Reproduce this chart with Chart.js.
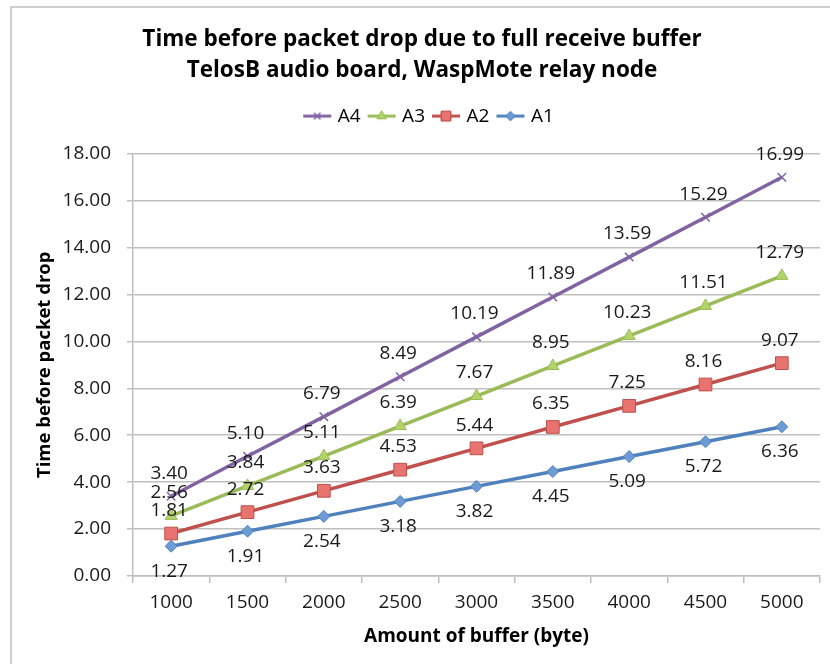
<!DOCTYPE html>
<html>
<head>
<meta charset="utf-8">
<script src="https://cdn.jsdelivr.net/npm/chart.js@4"></script>
<style>
html,body{margin:0;padding:0;background:#fff;}
#wrap{width:830px;height:664px;position:relative;}
</style>
</head>
<body>
<div id="wrap"><canvas id="c" width="830" height="664"></canvas></div>
<script>
const categories = ['1000','1500','2000','2500','3000','3500','4000','4500','5000'];
const seriesA1 = [1.27,1.91,2.54,3.18,3.82,4.45,5.09,5.72,6.36];
const seriesA2 = [1.81,2.72,3.63,4.53,5.44,6.35,7.25,8.16,9.07];
const seriesA3 = [2.56,3.84,5.11,6.39,7.67,8.95,10.23,11.51,12.79];
const seriesA4 = [3.40,5.10,6.79,8.49,10.19,11.89,13.59,15.29,16.99];
const yTicks = [0,2,4,6,8,10,12,14,16,18];
const titleLines = ['Time before packet drop due to full receive buffer','TelosB audio board, WaspMote relay node'];
const xTitle = 'Amount of buffer (byte)';
const yTitle = 'Time before packet drop';

const FONT = "'Open Sans', sans-serif";

function legendIcon(color, fill, style, r) {
  const cv = document.createElement('canvas');
  cv.width = 30; cv.height = 16;
  const ctx = cv.getContext('2d');
  ctx.strokeStyle = color; ctx.lineWidth = 3;
  ctx.beginPath(); ctx.moveTo(1, 8); ctx.lineTo(29, 8); ctx.stroke();
  ctx.fillStyle = fill; ctx.lineWidth = 1;
  Chart.helpers.drawPoint(ctx, {pointStyle: style, radius: r, borderWidth: 1}, 15, 8);
  if (style === 'crossRot') { ctx.lineWidth = 1.5; ctx.stroke(); } else { ctx.fill(); ctx.stroke(); }
  return cv;
}

const styles = [
  {label:'A1', data:seriesA1, color:'#4F81BD', fill:'#6C9BD6', style:'rectRot', r:6, pos:'below'},
  {label:'A2', data:seriesA2, color:'#C0504D', fill:'#E8736F', style:'rect', r:9, pos:'above'},
  {label:'A3', data:seriesA3, color:'#9BBB59', fill:'#B3D36B', style:'triangle', r:7, pos:'above'},
  {label:'A4', data:seriesA4, color:'#8064A2', fill:'#8064A2', style:'crossRot', r:6, pos:'above'}
];

const datasets = styles.map(s => ({
  label: s.label,
  data: s.data,
  borderColor: s.color,
  backgroundColor: s.fill,
  borderWidth: 3.5,
  pointStyle: s.style,
  pointRadius: s.r,
  pointBorderColor: s.color,
  pointBackgroundColor: s.fill,
  pointBorderWidth: s.style === 'crossRot' ? 1.5 : 1,
  tension: 0,
  labelPos: s.pos,
  legendImg: legendIcon(s.color, s.fill, s.style, s.r * 0.75)
}));

const framePlugin = {
  id: 'frame',
  beforeDraw(chart) {
    const ctx = chart.ctx;
    ctx.save();
    ctx.strokeStyle = '#d0d0d0';
    ctx.lineWidth = 2;
    ctx.beginPath();
    ctx.moveTo(11, 664); ctx.lineTo(11, 7); ctx.lineTo(830, 7);
    ctx.stroke();
    ctx.restore();
  }
};

const legendSpacer = {
  id: 'legendSpacer',
  beforeUpdate(chart) {
    const lg = chart.legend;
    if (lg && !lg._patched) {
      const orig = lg.fit;
      lg.fit = function() { orig.call(this); this.height += 18; };
      lg._patched = true;
    }
  },
  afterLayout(chart) {
    const lg = chart.legend;
    if (lg) { lg.left += 8; lg.right += 8; }
  }
};

const valueLabels = {
  id: 'valueLabels',
  afterDatasetsDraw(chart) {
    const ctx = chart.ctx;
    ctx.save();
    ctx.font = "19px " + FONT;
    ctx.fillStyle = '#1a1a1a';
    ctx.textAlign = 'center';
    ctx.textBaseline = 'middle';
    chart.data.datasets.forEach((ds, i) => {
      const meta = chart.getDatasetMeta(i);
      meta.data.forEach((pt, j) => {
        const off = ds.labelPos === 'below' ? 25 : -23;
        ctx.fillText(ds.data[j].toFixed(2), pt.x - 2, pt.y + off);
      });
    });
    ctx.restore();
  }
};

new Chart(document.getElementById('c'), {
  type: 'line',
  data: { labels: categories, datasets: datasets },
  plugins: [framePlugin, legendSpacer, valueLabels],
  options: {
    responsive: false,
    animation: false,
    devicePixelRatio: 1,
    layout: { padding: { left: 20, right: 6, top: 0, bottom: 0 } },
    plugins: {
      title: {
        display: true,
        text: titleLines,
        color: '#000',
        font: { family: FONT, size: 22.5, weight: 'bold', lineHeight: 1.38 },
        padding: { top: 24.5, bottom: 10 }
      },
      legend: {
        display: true,
        reverse: true,
        labels: {
          color: '#000',
          font: { family: FONT, size: 19 },
          usePointStyle: true,
          pointStyleWidth: 22,
          padding: 10,
          generateLabels(chart) {
            return chart.data.datasets.map((ds, i) => ({
              text: ds.label,
              datasetIndex: i,
              pointStyle: ds.legendImg,
              fillStyle: ds.backgroundColor,
              strokeStyle: ds.borderColor,
              lineWidth: 0,
              hidden: false
            }));
          }
        }
      },
      tooltip: { enabled: false }
    },
    scales: {
      x: {
        offset: true,
        afterFit(scale) { scale.height = 88; },
        grid: { display: true, drawOnChartArea: false, drawTicks: true, tickLength: 7, color: '#bfbfbf', offset: true, lineWidth: 1.5 },
        border: { display: true, color: '#bfbfbf', width: 1.5 },
        ticks: { color: '#1a1a1a', font: { family: FONT, size: 19 }, padding: 8, maxRotation: 0 },
        title: { display: true, text: xTitle, color: '#000', font: { family: FONT, size: 19, weight: 'bold' }, padding: { top: 0, bottom: 16 } }
      },
      y: {
        min: 0, max: 18,
        afterFit(scale) { scale.width = 113; },
        afterBuildTicks(scale) { scale.ticks = yTicks.map(v => ({ value: v })); },
        grid: { color: '#bfbfbf', lineWidth: 1.5, tickLength: 6, drawTicks: true },
        border: { display: true, color: '#bfbfbf', width: 1.5 },
        ticks: { color: '#1a1a1a', font: { family: FONT, size: 19 }, padding: 16, callback: v => Number(v).toFixed(2) },
        title: { display: true, text: yTitle, color: '#000', font: { family: FONT, size: 18.5, weight: 'bold' }, padding: { top: 14, bottom: 0 } }
      }
    }
  }
});
</script>
</body>
</html>
